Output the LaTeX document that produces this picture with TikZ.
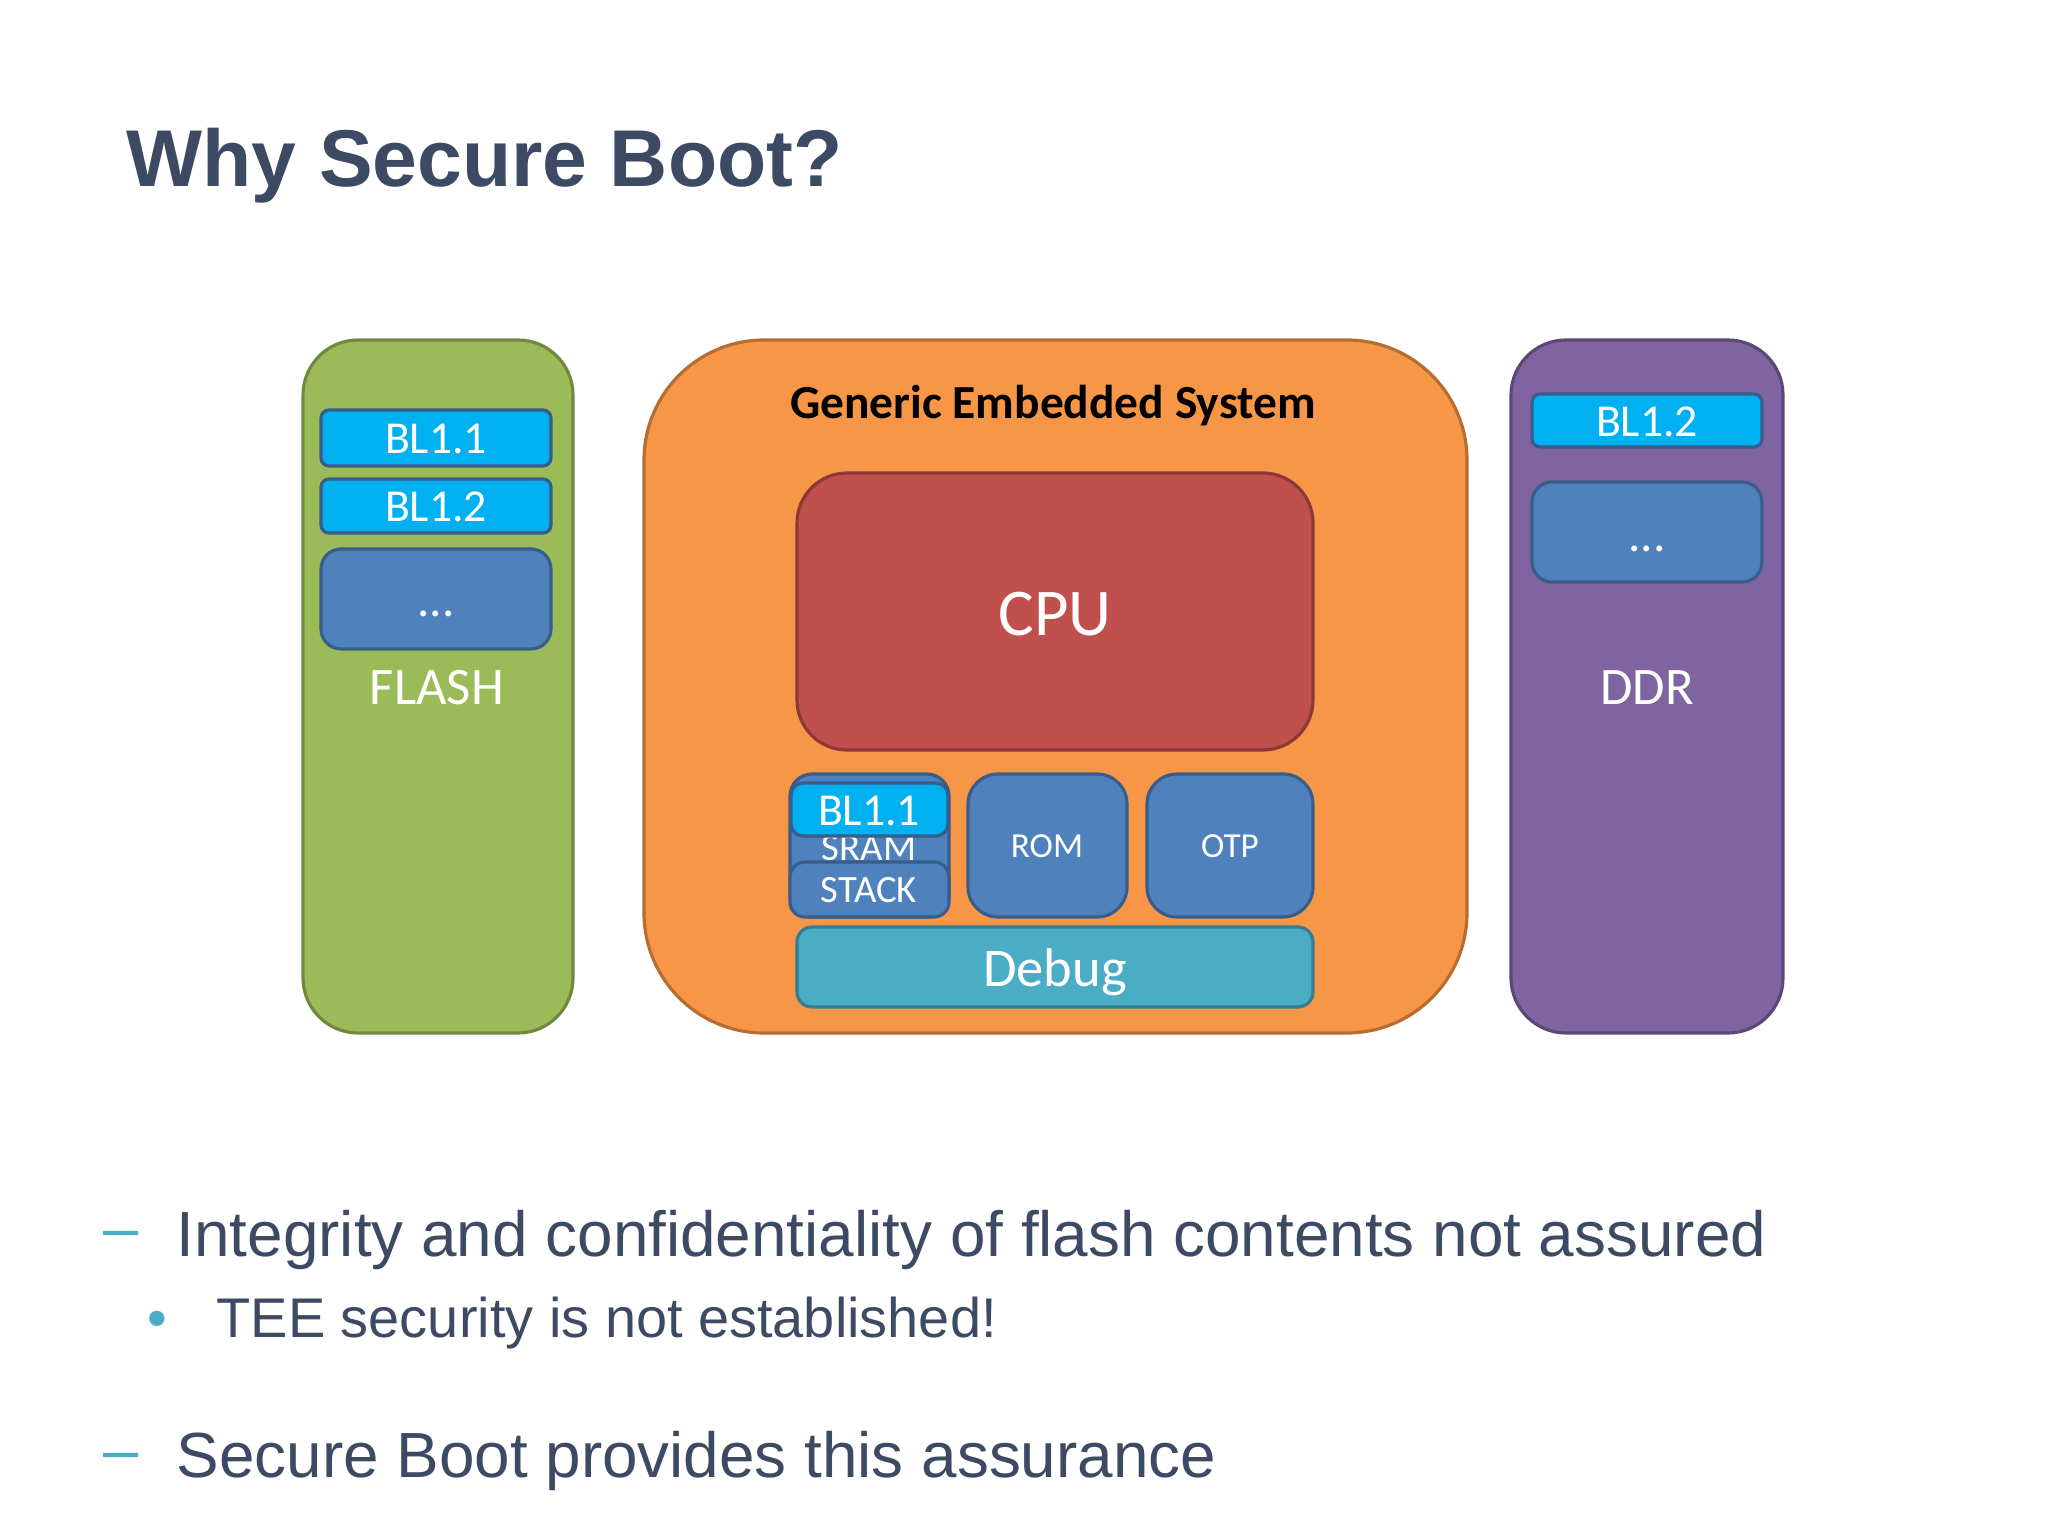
\documentclass[tikz,border=0pt]{standalone}
\usepackage{fontspec}
\setmainfont{Liberation Sans}
\newfontfamily\calibri{Carlito}

\definecolor{titlegray}{HTML}{3D4A63}
\definecolor{dashteal}{HTML}{4BACC6}
\definecolor{flashgreen}{HTML}{9BBB59}
\definecolor{flashedge}{HTML}{71893F}
\definecolor{socorange}{HTML}{F79646}
\definecolor{socedge}{HTML}{B66D31}
\definecolor{ddrpurple}{HTML}{8064A2}
\definecolor{ddredge}{HTML}{5C4776}
\definecolor{cpured}{HTML}{C0504D}
\definecolor{cpuedge}{HTML}{8C3836}
\definecolor{memblue}{HTML}{4F81BD}
\definecolor{memedge}{HTML}{385D8A}
\definecolor{blcyan}{HTML}{00B0F0}
\definecolor{dbgteal}{HTML}{4BACC6}
\definecolor{dbgedge}{HTML}{357D91}

\tikzset{
  box/.style={draw, line width=0.9pt, rounded corners=#1},
  box/.default=0.2cm,
  lbl/.style={text=white, inner sep=0pt, font=\calibri\fontsize{#1}{#1}\selectfont},
  lbl/.default=13pt,
  bodytxt/.style={text=titlegray, inner sep=0pt, anchor=base west, font=\fontsize{#1}{#1}\selectfont},
  marktxt/.style={text=dashteal, inner sep=0pt, font=\fontsize{#1}{#1}\selectfont}
}

\begin{document}
\begin{tikzpicture}[x=0.01cm,y=-0.01cm]
\useasboundingbox[fill=white] (0,0) rectangle (2048,1537);

%--- TITLE ---
\node[anchor=base west, inner sep=0pt, text=titlegray, font=\bfseries\fontsize{22.9pt}{22.9pt}\selectfont] (title) at (126,187) {Why Secure Boot?};

%--- FLASH ---
\draw[box=0.55cm, fill=flashgreen, draw=flashedge] (303,340) rectangle (573,1033);
\draw[box=0.08cm, fill=blcyan, draw=memedge] (321,410) rectangle (551,466);
\node[lbl] (fbl1) at (436,439) {BL1.1};
\draw[box=0.08cm, fill=blcyan, draw=memedge] (321,479) rectangle (551,533);
\node[lbl] (fbl2) at (436,507) {BL1.2};
\draw[box=0.2cm, fill=memblue, draw=memedge] (321,549) rectangle (551,649);
\node[lbl=14pt] (fdots) at (436,614) {...};
\node[lbl=15pt] (flash) at (437,688) {FLASH};

%--- GENERIC EMBEDDED SYSTEM ---
\draw[box=1.2cm, fill=socorange, draw=socedge] (644,340) rectangle (1467,1033);
\node[inner sep=0pt, font=\calibri\bfseries\fontsize{13.5pt}{13.5pt}\selectfont] (soc) at (1053,406) {Generic Embedded System};

% CPU
\draw[box=0.5cm, fill=cpured, draw=cpuedge] (797,473) rectangle (1313,750);
\node[lbl=19pt] (cpu) at (1055,614) {CPU};

% SRAM with BL1.1 loaded and STACK
\draw[box=0.22cm, fill=memblue, draw=memedge] (790,774) rectangle (949,917);
\node[lbl=11pt] (sram) at (869,848) {SRAM};
\draw[box=0.12cm, fill=blcyan, draw=memedge] (791,783) rectangle (948,836);
\node[lbl] (sbl1) at (869,811) {BL1.1};
\draw[box=0.15cm, fill=memblue, draw=memedge] (790,862) rectangle (949,917);
\node[lbl=11pt] (stack) at (869,890) {STACK};

% ROM / OTP
\draw[box=0.3cm, fill=memblue, draw=memedge] (968,774) rectangle (1127,917);
\node[lbl=10pt] (rom) at (1047,846) {ROM};
\draw[box=0.3cm, fill=memblue, draw=memedge] (1147,774) rectangle (1313,917);
\node[lbl=10pt] (otp) at (1230,846) {OTP};

% Debug
\draw[box=0.15cm, fill=dbgteal, draw=dbgedge] (797,927) rectangle (1313,1007);
\node[lbl=15.5pt] (debug) at (1055,972) {Debug};

%--- DDR ---
\draw[box=0.55cm, fill=ddrpurple, draw=ddredge] (1511,340) rectangle (1783,1033);
\draw[box=0.08cm, fill=blcyan, draw=memedge] (1532,394) rectangle (1762,447);
\node[lbl] (dbl2) at (1647,422) {BL1.2};
\draw[box=0.2cm, fill=memblue, draw=memedge] (1532,482) rectangle (1762,582);
\node[lbl=14pt] (ddots) at (1647,549) {...};
\node[lbl=15pt] (ddr) at (1647,688) {DDR};

%--- BULLETS ---
\node[marktxt=18pt] (dash1) at (121,1240) {–};
\node[bodytxt=18.15pt] (line1) at (176,1256) {Integrity and confidentiality of flash contents not assured};
\node[marktxt=16pt] (dot2) at (157,1324) {•};
\node[bodytxt=15.9pt] (line2) at (216,1337) {TEE security is not established!};
\node[marktxt=18pt] (dash3) at (121,1462) {–};
\node[bodytxt=18.15pt] (line3) at (176,1477) {Secure Boot provides this assurance};

\end{tikzpicture}
\end{document}
